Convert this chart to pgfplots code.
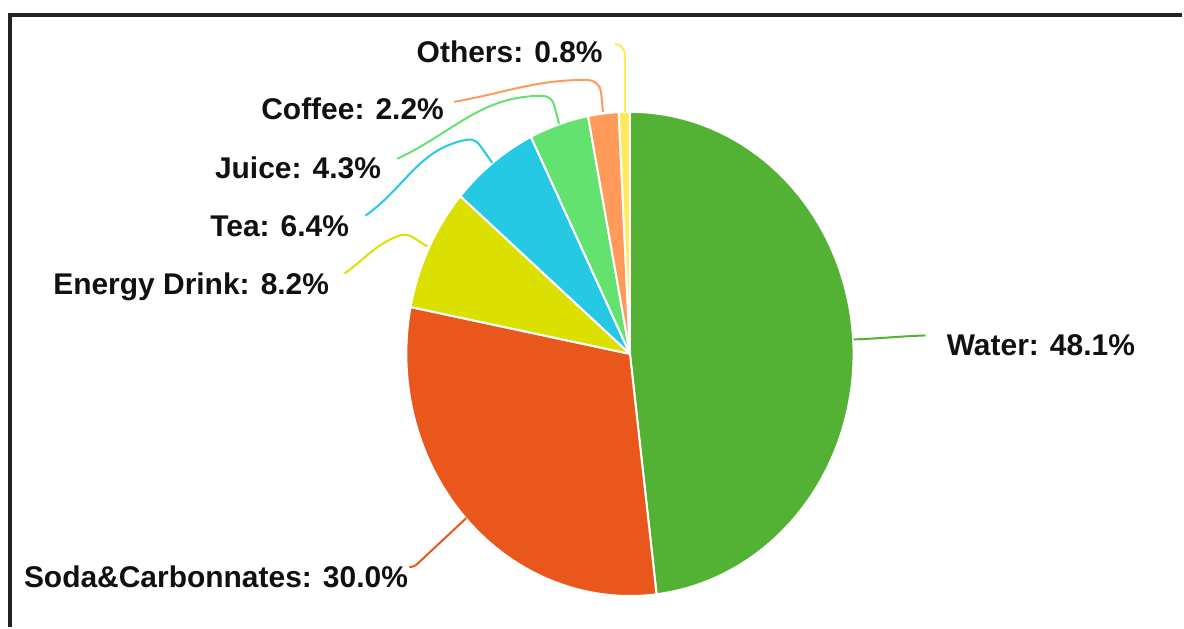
\documentclass[border=0pt]{standalone}
\usepackage{fontspec}
\setmainfont{Liberation Sans}
\usepackage{pgfplots}
\pgfplotsset{compat=1.18}
\definecolor{cWater}{HTML}{53B234}
\definecolor{cSoda}{HTML}{EA571D}
\definecolor{cEnergy}{HTML}{DCE000}
\definecolor{cTea}{HTML}{26C9E3}
\definecolor{cJuice}{HTML}{63E270}
\definecolor{cCoffee}{HTML}{FF9A5B}
\definecolor{cOthers}{HTML}{FFEA5C}
\definecolor{frame}{HTML}{1E2327}
\definecolor{txt}{HTML}{111111}
\tikzset{
  slice/.style={draw=white, line width=1pt, line join=round},
  lab/.style={font=\fontsize{15}{18}\selectfont\bfseries, text=txt, inner sep=0pt},
  lead/.style={line width=1pt, line join=round},
}
\begin{document}
\begin{tikzpicture}
\begin{axis}[
  x=0.5pt, y=0.5pt,
  xmin=0, xmax=1184, ymin=0, ymax=628,
  y dir=reverse,
  hide axis, clip=false,
  samples=100,
]
\path (0,0) rectangle (1184,628);
% slices: percentages 48.1, 30.0, 8.2, 6.4, 4.3, 2.2, 0.8 (clockwise from top)
\addplot[slice, fill=cWater,  domain=90-3.6*48.1:90-3.6*0]    ({631+224*cos(x)},{354.5-242.5*sin(x)}) -- (631,354.5) -- cycle;
\addplot[slice, fill=cSoda,   domain=90-3.6*78.1:90-3.6*48.1] ({631+224*cos(x)},{354.5-242.5*sin(x)}) -- (631,354.5) -- cycle;
\addplot[slice, fill=cEnergy, domain=90-3.6*86.3:90-3.6*78.1] ({631+224*cos(x)},{354.5-242.5*sin(x)}) -- (631,354.5) -- cycle;
\addplot[slice, fill=cTea,    domain=90-3.6*92.7:90-3.6*86.3] ({631+224*cos(x)},{354.5-242.5*sin(x)}) -- (631,354.5) -- cycle;
\addplot[slice, fill=cJuice,  domain=90-3.6*97.0:90-3.6*92.7] ({631+224*cos(x)},{354.5-242.5*sin(x)}) -- (631,354.5) -- cycle;
\addplot[slice, fill=cCoffee, domain=90-3.6*99.2:90-3.6*97.0] ({631+224*cos(x)},{354.5-242.5*sin(x)}) -- (631,354.5) -- cycle;
\addplot[slice, fill=cOthers, domain=90-3.6*100:90-3.6*99.2]  ({631+224*cos(x)},{354.5-242.5*sin(x)}) -- (631,354.5) -- cycle;
% leader lines
\draw[lead, cWater]  (855,340) to[out=2,in=182] (927,336);
\draw[lead, cSoda]   (467,519) -- (420,563) to[out=-135,in=0] (410,568);
\draw[lead, cEnergy] (428,247) -- (414,238) to[out=150,in=20] (400,236) to[out=200,in=35] (345,274);
\draw[lead, cTea]    (493,163) -- (481,146) to[out=125,in=10] (468,140) to[out=190,in=35] (366,216);
\draw[lead, cJuice]  (560,124) -- (555,105) to[out=105,in=0] (543,96) to[out=180,in=25] (398,159);
\draw[lead, cCoffee] (604,112) -- (602,92) to[out=97,in=0] (588,80) to[out=180,in=10] (455,102);
\draw[lead, cOthers] (626,112) -- (626,56) to[out=90,in=0] (616,44);
% labels
\node[lab, anchor=base west] at (948,356) {Water: 48.1\%};
\node[lab, anchor=base east] at (409,588) {Soda\&Carbonnates: 30.0\%};
\node[lab, anchor=base east] at (330,295) {Energy Drink: 8.2\%};
\node[lab, anchor=base east] at (350,237) {Tea: 6.4\%};
\node[lab, anchor=base east] at (382,179) {Juice: 4.3\%};
\node[lab, anchor=base east] at (445,120) {Coffee: 2.2\%};
\node[lab, anchor=base east] at (604,63) {Others: 0.8\%};
% frame
\draw[frame, line width=2pt, line join=miter] (10,628) -- (10,15) -- (1184,15);
\end{axis}
\end{tikzpicture}
\end{document}
